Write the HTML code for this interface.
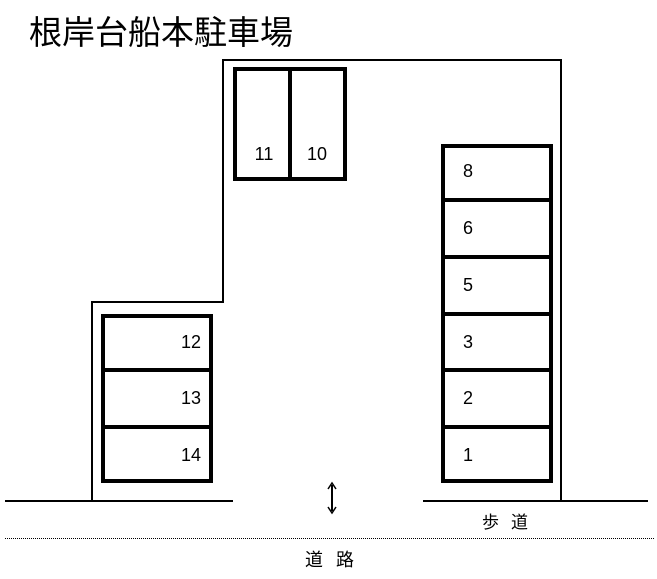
<!DOCTYPE html>
<html><head><meta charset="utf-8"><style>
html,body{margin:0;padding:0;background:#fff;width:657px;height:579px;overflow:hidden}
svg{display:block}
text{font-family:"Liberation Sans","Noto Sans CJK JP",sans-serif;fill:#000}
</style></head><body>
<svg width="657" height="579" viewBox="0 0 657 579">
<text x="29" y="44" font-size="33">根岸台船本駐車場</text>
<polyline points="92,501 92,302 223,302 223,60 561,60 561,501" fill="none" stroke="#000" stroke-width="2"/>
<line x1="5" y1="501" x2="233" y2="501" stroke="#000" stroke-width="2"/>
<line x1="423" y1="501" x2="648" y2="501" stroke="#000" stroke-width="2"/>
<line x1="5" y1="538.5" x2="655" y2="538.5" stroke="#000" stroke-width="1" stroke-dasharray="1,1"/>
<g fill="none" stroke="#000" stroke-width="4">
<rect x="235" y="69" width="110" height="110"/>
<line x1="290" y1="69" x2="290" y2="179"/>
<rect x="443" y="146" width="108" height="335"/>
<line x1="443" y1="200" x2="551" y2="200"/>
<line x1="443" y1="257" x2="551" y2="257"/>
<line x1="443" y1="314" x2="551" y2="314"/>
<line x1="443" y1="370" x2="551" y2="370"/>
<line x1="443" y1="427" x2="551" y2="427"/>
<rect x="103" y="316" width="108" height="165"/>
<line x1="103" y1="370" x2="211" y2="370"/>
<line x1="103" y1="427" x2="211" y2="427"/>
</g>
<g font-size="18" text-anchor="middle">
<text x="264" y="160">11</text><text x="317" y="160">10</text>
<text x="468" y="177">8</text><text x="468" y="234">6</text><text x="468" y="291">5</text>
<text x="468" y="348">3</text><text x="468" y="404">2</text><text x="468" y="461">1</text>
<text x="191" y="348">12</text><text x="191" y="404">13</text><text x="191" y="461">14</text>
</g>
<line x1="332" y1="485" x2="332" y2="511" stroke="#000" stroke-width="2"/>
<polyline points="328,489 332,483 336,489" fill="none" stroke="#000" stroke-width="1.5"/>
<polyline points="328,507 332,513 336,507" fill="none" stroke="#000" stroke-width="1.5"/>
<text x="482" y="528" font-size="17">歩</text><text x="511" y="528" font-size="17">道</text>
<text x="305" y="566" font-size="18">道</text><text x="336" y="566" font-size="18">路</text>
</svg>
</body></html>
